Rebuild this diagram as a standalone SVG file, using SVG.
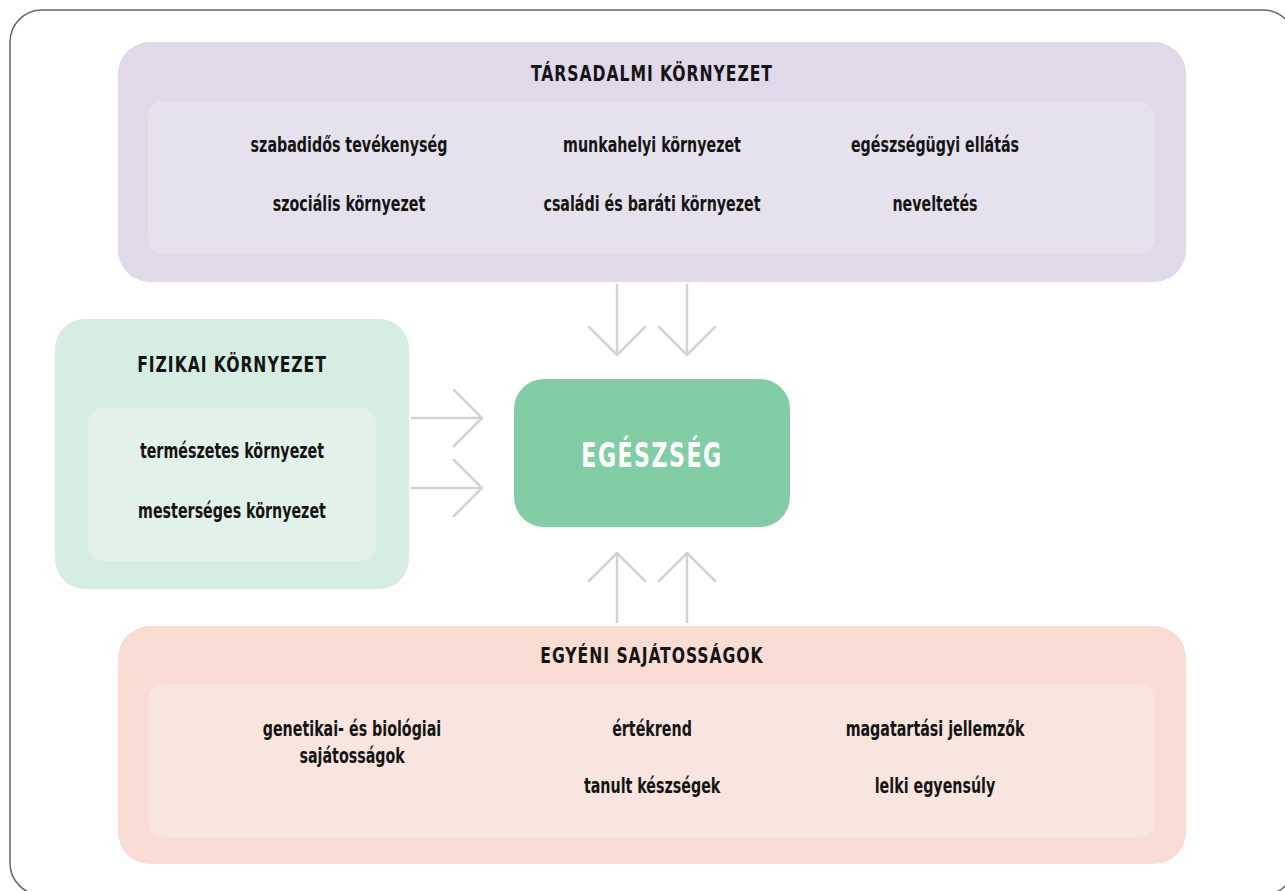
<svg xmlns="http://www.w3.org/2000/svg" width="1285" height="891" viewBox="0 0 1285 891">
<style>
.t{font-family:"DejaVu Sans Condensed","Liberation Sans Narrow","Liberation Sans",sans-serif;font-weight:bold;fill:#141414;text-anchor:middle;transform-box:fill-box;transform-origin:center}
.item{font-size:21px;transform:scaleX(0.755)}
.title{font-size:22px;letter-spacing:1.2px;transform:scaleX(0.79)}
.big{font-size:33px;letter-spacing:2px;fill:#fff;transform:scaleX(0.745)}
.arr{fill:none;stroke:#D2D2D2;stroke-width:2.5;stroke-linecap:round;stroke-linejoin:round}
</style>
<rect x="10" y="10" width="1285" height="885" rx="32" fill="#fff" stroke="#666" stroke-width="1.5"/>
<g id="tarsadalmi">
<rect x="118" y="42" width="1068" height="240" rx="32" fill="#DFD9E9"/>
<rect x="148" y="101" width="1007" height="153" rx="16" fill="#E5E2EE"/>
<text class="t title" x="652" y="81">TÁRSADALMI KÖRNYEZET</text>
<text class="t item" x="349" y="152">szabadidős tevékenység</text>
<text class="t item" x="652" y="152">munkahelyi környezet</text>
<text class="t item" x="935" y="152">egészségügyi ellátás</text>
<text class="t item" x="349" y="211">szociális környezet</text>
<text class="t item" x="652" y="211">családi és baráti környezet</text>
<text class="t item" x="935" y="211">neveltetés</text>
</g>
<g id="fizikai">
<rect x="55" y="319" width="354" height="270" rx="30" fill="#D6EDE1"/>
<rect x="88" y="408" width="288" height="153" rx="16" fill="#E2F2E9"/>
<text class="t title" x="232" y="372">FIZIKAI KÖRNYEZET</text>
<text class="t item" x="232" y="458">természetes környezet</text>
<text class="t item" x="232" y="518">mesterséges környezet</text>
</g>
<g id="egeszseg">
<rect x="514" y="379" width="276" height="148" rx="30" fill="#82CDA5"/>
<text class="t big" x="652" y="467">EGÉSZSÉG</text>
</g>
<g id="egyeni">
<rect x="118" y="626" width="1068" height="238" rx="32" fill="#F9DCD3"/>
<rect x="148" y="684" width="1007" height="153" rx="16" fill="#F9E5DF"/>
<text class="t title" x="652" y="663">EGYÉNI SAJÁTOSSÁGOK</text>
<text class="t item" x="352" y="736">genetikai- és biológiai</text>
<text class="t item" x="352" y="763">sajátosságok</text>
<text class="t item" x="652" y="736">értékrend</text>
<text class="t item" x="652" y="793">tanult készségek</text>
<text class="t item" x="935" y="736">magatartási jellemzők</text>
<text class="t item" x="935" y="793">lelki egyensúly</text>
</g>
<g id="connectors">
<path class="arr" d="M617 285V355M589 327L617 355L645 327"/>
<path class="arr" d="M687 285V355M659 327L687 355L715 327"/>
<path class="arr" d="M617 622V553M589 581L617 553L645 581"/>
<path class="arr" d="M687 622V553M659 581L687 553L715 581"/>
<path class="arr" d="M412 418H482M454 390L482 418L454 446"/>
<path class="arr" d="M412 488H482M454 460L482 488L454 516"/>
</g>
</svg>
